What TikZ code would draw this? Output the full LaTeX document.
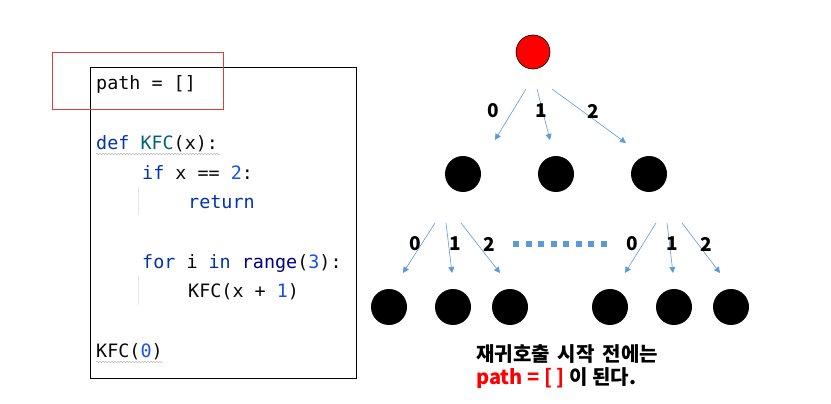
\documentclass[tikz,border=0pt]{standalone}
\usepackage{fontspec}
\setmonofont{DejaVu Sans Mono}
\newfontfamily\kr{Noto Sans CJK KR}
\usetikzlibrary{arrows.meta,decorations.pathmorphing}
\definecolor{kw}{HTML}{0033B3}
\definecolor{fn}{HTML}{00627A}
\definecolor{num}{HTML}{1750EB}
\definecolor{bi}{HTML}{000080}
\definecolor{tx}{HTML}{080808}
\definecolor{ablue}{HTML}{5B9BD5}
\definecolor{redbox}{HTML}{E03C3C}
\tikzset{
  code/.style={anchor=base west,inner sep=0pt,font=\ttfamily\fontsize{18.4}{20}\selectfont,text=tx},
  dot/.style={circle,fill=black,minimum size=36pt,inner sep=0pt},
  arr/.style={draw=ablue,line width=0.6pt,-{Triangle[width=6pt,length=6pt]}},
  lbl/.style={inner sep=0pt,font=\kr\bfseries\fontsize{19}{21}\selectfont},
  wavy/.style={draw=gray!55,line width=0.5pt,decorate,decoration={snake,amplitude=0.7pt,segment length=3pt}},
  guide/.style={draw=gray!20,line width=0.8pt},
  note/.style={anchor=base west,inner sep=0pt,font=\kr\bfseries\fontsize{20}{22}\selectfont}
}
\begin{document}
\begin{tikzpicture}[x=1pt,y=-1pt]
\useasboundingbox (0,0) rectangle (831,404);
% code box
\draw[black,line width=0.8pt] (90.5,67) rectangle (356,378);
\draw[redbox,line width=1pt] (52,53) rectangle (223,110);
\node[code] (c1) at (96,90) {path = []};
\node[code] (c2) at (96,149.5) {\textcolor{kw}{def} \textcolor{fn}{KFC}(x):};
\node[code] (c3) at (142,179) {\textcolor{kw}{if} x == \textcolor{num}{2}:};
\node[code] (c4) at (188,208.5) {\textcolor{kw}{return}};
\node[code] (c5) at (142,268) {\textcolor{kw}{for} i \textcolor{kw}{in} \textcolor{bi}{range}(\textcolor{num}{3}):};
\node[code] (c6) at (188,297.5) {KFC(x + \textcolor{num}{1})};
\node[code] (c7) at (96,357) {KFC(\textcolor{num}{0})};
\draw[wavy] (96,154) -- (220,154);
\draw[wavy] (96,362) -- (163,362);
\draw[guide] (138,187) -- (138,215);
\draw[guide] (138,276) -- (138,305);
% tree
\node[circle,draw=black,line width=0.6pt,fill=red,minimum size=34pt,inner sep=0pt] (root) at (533,52) {};
\node[dot] (a) at (463,174) {};
\node[dot] (b) at (556,174) {};
\node[dot] (c) at (649,174) {};
\node[dot] (l1) at (389,307) {};
\node[dot] (l2) at (453,307) {};
\node[dot] (l3) at (510,307) {};
\node[dot] (r1) at (610,307) {};
\node[dot] (r2) at (674,307) {};
\node[dot] (r3) at (731,307) {};
% arrow endpoints
\coordinate (s0) at (526,89); \coordinate (t0) at (495,140);
\coordinate (s1) at (537,89); \coordinate (t1) at (550,140);
\coordinate (s2) at (552,89); \coordinate (t2) at (626,143);
\draw[arr] (s0) -- (t0);
\draw[arr] (s1) -- (t1);
\draw[arr] (s2) -- (t2);
\node[lbl] (n0) at (493,111) {0};
\node[lbl] (n1) at (541,111) {1};
\node[lbl] (n2) at (593,111) {2};
\coordinate (ls0) at (435,223); \coordinate (lt0) at (403,273);
\coordinate (ls1) at (446,223); \coordinate (lt1) at (452,273);
\coordinate (ls2) at (461,223); \coordinate (lt2) at (500,273);
\draw[arr] (ls0) -- (lt0);
\draw[arr] (ls1) -- (lt1);
\draw[arr] (ls2) -- (lt2);
\node[lbl] (m0) at (415,244) {0};
\node[lbl] (m1) at (455,244) {1};
\node[lbl] (m2) at (489,244) {2};
\coordinate (rs0) at (656,223); \coordinate (rt0) at (625,273);
\coordinate (rs1) at (667,223); \coordinate (rt1) at (673,273);
\coordinate (rs2) at (682,223); \coordinate (rt2) at (720,273);
\draw[arr] (rs0) -- (rt0);
\draw[arr] (rs1) -- (rt1);
\draw[arr] (rs2) -- (rt2);
\node[lbl] (k0) at (632,244) {0};
\node[lbl] (k1) at (672,244) {1};
\node[lbl] (k2) at (706,244) {2};
% dotted row
\coordinate (d0) at (513,244); \coordinate (d1) at (607,244);
\draw[ablue,line width=6pt,dash pattern=on 6pt off 6.57pt] (d0) -- (d1);
% note
\node[note] (t1n) at (476,361) {재귀호출\hspace{8pt}시작\hspace{8pt}전에는};
\node[note] (t2n) at (476,384) {\textcolor{red}{path = [ ]} 이 된다.};
\end{tikzpicture}
\end{document}
